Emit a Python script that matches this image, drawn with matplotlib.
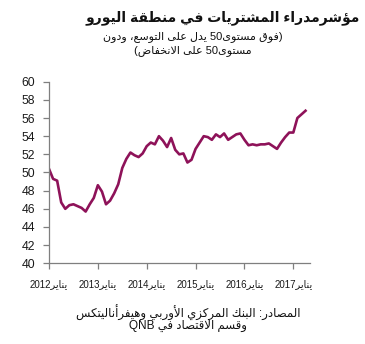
import matplotlib
matplotlib.use("Agg")
import matplotlib.pyplot as plt

# ---------------- data ----------------
years = [2012, 2013, 2014, 2015, 2016, 2017]
month_label = "يناير"
pmi = [50.4, 49.3, 49.1, 46.7, 46.0, 46.4, 46.5, 46.3, 46.1, 45.7, 46.5, 47.2,
       48.6, 47.9, 46.5, 46.9, 47.7, 48.7, 50.5, 51.5, 52.2, 51.9, 51.7, 52.1,
       52.9, 53.3, 53.1, 54.0, 53.5, 52.8, 53.8, 52.5, 52.0, 52.1, 51.1, 51.4,
       52.6, 53.3, 54.0, 53.9, 53.6, 54.2, 53.9, 54.3, 53.6, 53.9, 54.2, 54.3,
       53.6, 53.0, 53.1, 53.0, 53.1, 53.1, 53.2, 52.9, 52.6, 53.3, 53.9, 54.4,
       54.4, 56.0, 56.4, 56.8]
y_ticks = [40, 42, 44, 46, 48, 50, 52, 54, 56, 58, 60]

title = "مؤشرمدراء المشتريات في منطقة اليورو"
subtitle1 = "(فوق مستوى50 يدل على التوسع، ودون"
subtitle2 = "مستوى50 على الانخفاض)"
source1 = "المصادر: البنك المركزي الأوربي وهيفرأناليتكس"
source2 = "وقسم الاقتصاد في QNB"

# ---------------- minimal Arabic shaping + bidi ----------------
DUAL = {0x0626: 0xFE89, 0x0628: 0xFE8F, 0x062A: 0xFE95, 0x062B: 0xFE99,
        0x062C: 0xFE9D, 0x062D: 0xFEA1, 0x062E: 0xFEA5, 0x0633: 0xFEB1,
        0x0634: 0xFEB5, 0x0635: 0xFEB9, 0x0636: 0xFEBD, 0x0637: 0xFEC1,
        0x0638: 0xFEC5, 0x0639: 0xFEC9, 0x063A: 0xFECD, 0x0641: 0xFED1,
        0x0642: 0xFED5, 0x0643: 0xFED9, 0x0644: 0xFEDD, 0x0645: 0xFEE1,
        0x0646: 0xFEE5, 0x0647: 0xFEE9, 0x064A: 0xFEF1}
RIGHT = {0x0622: 0xFE81, 0x0623: 0xFE83, 0x0624: 0xFE85, 0x0625: 0xFE87,
         0x0627: 0xFE8D, 0x0629: 0xFE93, 0x062F: 0xFEA9, 0x0630: 0xFEAB,
         0x0631: 0xFEAD, 0x0632: 0xFEAF, 0x0648: 0xFEED, 0x0649: 0xFEEF}
NONJ = {0x0621: 0xFE80}
LAMALEF = {0x0622: 0xFEF5, 0x0623: 0xFEF7, 0x0625: 0xFEF9, 0x0627: 0xFEFB}


def shape(s):
    chars = []
    i = 0
    while i < len(s):
        c = s[i]
        if ord(c) == 0x0644 and i + 1 < len(s) and ord(s[i + 1]) in LAMALEF:
            chars.append(("LA", ord(s[i + 1])))
            i += 2
        else:
            chars.append(("C", c))
            i += 1

    def joins_left(tok):
        if tok is None or tok[0] == "LA":
            return False
        return ord(tok[1]) in DUAL

    def joins_right(tok):
        if tok is None:
            return False
        if tok[0] == "LA":
            return True
        o = ord(tok[1])
        return o in DUAL or o in RIGHT

    out = []
    for k, tok in enumerate(chars):
        prev = chars[k - 1] if k > 0 else None
        nxt = chars[k + 1] if k + 1 < len(chars) else None
        if tok[0] == "LA":
            base = LAMALEF[tok[1]]
            out.append(chr(base + 1 if joins_left(prev) else base))
            continue
        c = tok[1]
        o = ord(c)
        p = joins_left(prev)
        n = joins_right(nxt)
        if o in DUAL:
            b = DUAL[o]
            if p and n:
                out.append(chr(b + 3))
            elif p:
                out.append(chr(b + 1))
            elif n:
                out.append(chr(b + 2))
            else:
                out.append(chr(b))
        elif o in RIGHT:
            b = RIGHT[o]
            out.append(chr(b + 1 if p else b))
        elif o in NONJ:
            out.append(chr(NONJ[o]))
        else:
            out.append(c)
    return "".join(out)


MIRROR = {"(": ")", ")": "("}


def visual(s):
    s = shape(s)
    runs = []
    for c in s:
        ltr = c.isascii() and c.isalnum()
        if runs and runs[-1][0] == ltr:
            runs[-1][1].append(c)
        else:
            runs.append([ltr, [c]])
    res = []
    for ltr, cs in reversed(runs):
        if ltr:
            res.append("".join(cs))
        else:
            res.append("".join(MIRROR.get(c, c) for c in reversed(cs)))
    return "".join(res)


# ---------------- figure ----------------
plt.rcParams['font.family'] = ['Liberation Sans', 'DejaVu Sans']
W, H = 365, 344
fig = plt.figure(figsize=(W / 100, H / 100), dpi=100)
ax = fig.add_axes([49 / W, 1 - 263.3 / H, (310 - 49) / W, (263.3 - 81.7) / H])

x = list(range(len(pmi)))
ax.plot(x, pmi, color='#8E1259', lw=1.9, solid_joinstyle='round')

ax.set_ylim(40, 60)
ax.set_xlim(0, 64.1)
ax.set_yticks(y_ticks)
ax.set_yticklabels([str(v) for v in y_ticks])
ax.set_xticks([12 * i for i in range(len(years))])
ax.set_xticklabels([visual(month_label + str(y)) for y in years],
                   family=['Liberation Sans', 'DejaVu Sans'])

for s in ['top', 'right']:
    ax.spines[s].set_visible(False)
for s in ['left', 'bottom']:
    ax.spines[s].set_color('#7f7f7f')
    ax.spines[s].set_linewidth(0.9)
ax.tick_params(axis='y', length=4, width=0.9, color='#7f7f7f', pad=6,
               labelsize=8.8, labelcolor='#1a1a1a')
ax.tick_params(axis='x', length=4, width=0.9, color='#7f7f7f', pad=7,
               labelsize=7, labelcolor='#1a1a1a')

fam = ['Liberation Sans', 'DejaVu Sans']
fig.text(360 / W, 1 - 18 / H, visual(title), ha='right', va='center',
         fontsize=10, fontweight='bold', family=fam, color='#111111')
fig.text(193 / W, 1 - 37 / H, visual(subtitle1), ha='center', va='center',
         fontsize=8, family=fam, color='#111111')
fig.text(193 / W, 1 - 51 / H, visual(subtitle2), ha='center', va='center',
         fontsize=8, family=fam, color='#111111')
fig.text(188 / W, 1 - 313 / H, visual(source1), ha='center', va='center',
         fontsize=8.5, family=fam, color='#111111')
fig.text(188 / W, 1 - 326 / H, visual(source2), ha='center', va='center',
         fontsize=8.5, family=fam, color='#111111')

fig.savefig('out.png', dpi=100)
